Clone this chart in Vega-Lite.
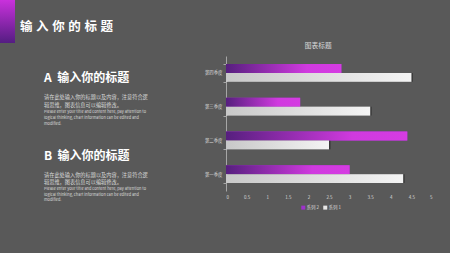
{
  "$schema": "https://vega.github.io/schema/vega-lite/v6.json",
  "background": "#595959",
  "padding": {"left": 0, "top": 0, "right": 40, "bottom": 60},
  "config": {
    "font": "Noto Sans CJK SC",
    "view": {"stroke": null}
  },
  "spacing": 0,
  "resolve": {"scale": {"color": "independent"}, "legend": {"color": "independent"}},
  "vconcat": [
    {
      "spacing": 5,
      "hconcat": [
        {
          "width": 15,
          "height": 43,
          "data": {"values": [{}]},
          "mark": {
            "type": "rect",
            "color": {"gradient": "linear", "x1": 0, "y1": 0, "x2": 0, "y2": 1,
              "stops": [{"offset": 0, "color": "#c931dc"}, {"offset": 1, "color": "#541d82"}]}
          },
          "encoding": {}
        },
        {
          "width": 1,
          "height": 19,
          "data": {"values": []},
          "mark": "text",
          "title": {
            "text": "输\u00a0\u200a入\u00a0\u200a你\u00a0\u200a的\u00a0\u200a标\u00a0\u200a题",
            "orient": "bottom", "anchor": "start",
            "offset": 2, "fontSize": 12.5, "fontWeight": "bold", "color": "#ffffff"
          }
        }
      ]
    },
    {
      "spacing": 24,
      "resolve": {"scale": {"color": "independent"}, "legend": {"color": "independent"}},
      "hconcat": [
        {
          "spacing": 0,
          "vconcat": [
            {
              "width": 180, "height": 15,
              "data": {"values": []},
              "mark": "text",
              "title": {
                "text": "A\u00a0\u00a0输入你的标题",
                "subtitle": ["请在此处输入你的标题以及内容，注意符合逻", "辑思维，图表信息可以编辑修改。"],
                "orient": "bottom", "anchor": "start", "dx": 44, "offset": 2,
                "fontSize": 12, "fontWeight": "bold", "color": "#ffffff",
                "subtitleFontSize": 5.2, "subtitleColor": "#d9d9d9", "subtitleLineHeight": 8, "subtitlePadding": 10
              }
            },
            {
              "width": 180, "height": 1,
              "data": {"values": []},
              "mark": "text",
              "title": {
                "text": ["Please enter your title and content here, pay attention to", "logical thinking, chart information can be edited and", "modified."],
                "orient": "bottom", "anchor": "start", "dx": 44, "offset": 0,
                "fontSize": 3.9, "fontWeight": "normal", "color": "#d9d9d9", "lineHeight": 6
              }
            },
            {
              "width": 180, "height": 23,
              "data": {"values": []},
              "mark": "text",
              "title": {
                "text": "B\u00a0\u00a0输入你的标题",
                "subtitle": ["请在此处输入你的标题以及内容，注意符合逻", "辑思维，图表信息可以编辑修改。"],
                "orient": "bottom", "anchor": "start", "dx": 44, "offset": 2,
                "fontSize": 12, "fontWeight": "bold", "color": "#ffffff",
                "subtitleFontSize": 5.2, "subtitleColor": "#d9d9d9", "subtitleLineHeight": 7, "subtitlePadding": 10
              }
            },
            {
              "width": 180, "height": 1,
              "data": {"values": []},
              "mark": "text",
              "title": {
                "text": ["Please enter your title and content here, pay attention to", "logical thinking, chart information can be edited and", "modified."],
                "orient": "bottom", "anchor": "start", "dx": 44, "offset": 0,
                "fontSize": 3.9, "fontWeight": "normal", "color": "#d9d9d9", "lineHeight": 5.5
              }
            }
          ]
        },
        {
          "width": 206,
          "height": 135,
          "title": {"text": "图表标题", "fontSize": 6.7, "fontWeight": "normal", "color": "#d9d9d9", "offset": 3, "frame": "bounds", "anchor": "middle"},
          "data": {"values": [
            {"quarter": "第一季度", "series": "系列 1", "value": 4.3},
            {"quarter": "第一季度", "series": "系列 2", "value": 3.0},
            {"quarter": "第二季度", "series": "系列 1", "value": 2.5},
            {"quarter": "第二季度", "series": "系列 2", "value": 4.4},
            {"quarter": "第三季度", "series": "系列 1", "value": 3.5},
            {"quarter": "第三季度", "series": "系列 2", "value": 1.8},
            {"quarter": "第四季度", "series": "系列 1", "value": 4.5},
            {"quarter": "第四季度", "series": "系列 2", "value": 2.8}
          ]},
          "encoding": {
            "y": {
              "field": "quarter", "type": "nominal",
              "scale": {"domain": ["第四季度", "第三季度", "第二季度", "第一季度"], "paddingInner": 0.47, "paddingOuter": 0.235},
              "axis": {"title": null, "labelFontSize": 4.4, "labelColor": "#d9d9d9", "domainColor": "#a6a6a6", "tickColor": "#a6a6a6", "tickSize": 3, "tickBand": "extent", "labelPadding": 1, "grid": false}
            },
            "yOffset": {"field": "series", "type": "nominal", "scale": {"domain": ["系列 2", "系列 1"]}},
            "x": {
              "field": "value", "type": "quantitative",
              "scale": {"domain": [0, 5], "nice": false},
              "axis": {"title": null, "values": [0, 0.5, 1, 1.5, 2, 2.5, 3, 3.5, 4, 4.5, 5], "format": "~g", "labelFontSize": 4.5, "labelColor": "#d9d9d9", "domain": false, "ticks": false, "grid": false, "labelPadding": 3}
            }
          },
          "layer": [
            {
              "mark": {"type": "bar"},
              "encoding": {
                "color": {
                  "field": "series", "type": "nominal",
                  "scale": {"domain": ["系列 2", "系列 1"], "range": ["#9f32cc", "#e6e6e6"]},
                  "legend": {"title": null, "orient": "none", "legendX": 75, "legendY": 149, "direction": "horizontal", "symbolType": "square", "symbolSize": 16, "labelFontSize": 4.5, "labelColor": "#d9d9d9", "symbolStrokeWidth": 0, "columnPadding": 3, "labelOffset": 1}
                }
              }
            },
            {
              "transform": [{"filter": "datum.series === '系列 1'"}],
              "mark": {"type": "bar", "color": "#2a2a2a", "opacity": 0.7, "xOffset": 1.5, "yOffset": 1.5}
            },
            {
              "transform": [{"filter": "datum.series === '系列 2'"}],
              "mark": {"type": "bar", "color": {"gradient": "linear", "x1": 0, "y1": 0, "x2": 1, "y2": 0,
                "stops": [{"offset": 0, "color": "#561f7e"}, {"offset": 0.7, "color": "#d03adf"}, {"offset": 1, "color": "#d53ce2"}]}}
            },
            {
              "transform": [{"filter": "datum.series === '系列 1'"}],
              "mark": {"type": "bar", "color": {"gradient": "linear", "x1": 0, "y1": 0, "x2": 1, "y2": 0,
                "stops": [{"offset": 0, "color": "#c8c8c8"}, {"offset": 1, "color": "#f4f4f4"}]}}
            }
          ]
        }
      ]
    }
  ]
}
